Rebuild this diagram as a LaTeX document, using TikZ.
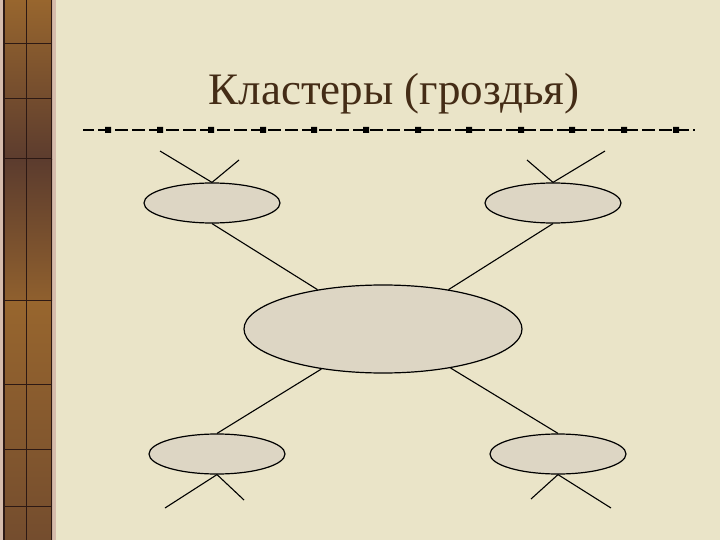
\documentclass[tikz,border=0pt]{standalone}
\usepackage{fontspec}
\setmainfont{Liberation Serif}
\usetikzlibrary{shapes.geometric}
\definecolor{paper}{RGB}{234,228,200}
\definecolor{oval}{RGB}{221,214,196}
\definecolor{titlebrown}{RGB}{68,44,22}
\definecolor{stripedge}{RGB}{214,188,172}
\definecolor{woodlight}{RGB}{152,102,46}
\definecolor{wooddark}{RGB}{92,60,46}
\definecolor{stripline}{RGB}{45,25,20}
\tikzset{
	cluster/.style={ellipse,draw=black,line width=1.2pt,fill=oval,inner sep=0pt}, % one oval of the cluster
	small cluster/.style={cluster,minimum width=136pt,minimum height=40pt},
	branch/.style={line width=1.1pt},
}

\begin{document}
\begin{tikzpicture}[x=1pt,y=-1pt]
		% page size and paper
		\useasboundingbox (0,0) rectangle (720,540);
		\fill[paper] (0,0) rectangle (720,540);
		
		% wooden strip on the left
		\fill[stripedge] (0,0) rectangle (56,540);
		\shade[top color=woodlight,bottom color=wooddark] (4,0) rectangle (52,160);
		\shade[top color=wooddark,bottom color=woodlight!85!wooddark] (4,160) rectangle (52,300);
		\shade[top color=woodlight,bottom color=wooddark!60!woodlight] (4,300) rectangle (52,540);
		\draw[stripline,line width=1.6pt] (4,0) -- (4,540) (51.5,0) -- (51.5,540);
		\draw[stripline,line width=0.8pt] (26,0) -- (26,540);
		\draw[stripline,line width=0.8pt] (4,43) -- (52,43) (4,98) -- (52,98) (4,158) -- (52,158)
			(4,300) -- (52,300) (4,384) -- (52,384) (4,449) -- (52,449) (4,506) -- (52,506);
		
		% title
		\node[anchor=base,text=titlebrown,font=\rmfamily\fontsize{45}{50}\selectfont] (title) at (394,105) {Кластеры (гроздья)};
		
		% dashed rule with small squares under the title
		\coordinate (rule start) at (83,130);
		\coordinate (rule end) at (695,130);
		\draw[line width=1.4pt,dash pattern=on 13pt off 4pt,dash phase=2pt] (rule start) -- (rule end);
		\fill (105,127) rectangle +(6,6) (157,127) rectangle +(6,6) (208,127) rectangle +(6,6)
			(260,127) rectangle +(6,6) (311,127) rectangle +(6,6) (363,127) rectangle +(6,6)
			(415,127) rectangle +(6,6) (466,127) rectangle +(6,6) (518,127) rectangle +(6,6)
			(569,127) rectangle +(6,6) (621,127) rectangle +(6,6) (673,127) rectangle +(6,6);
		
		% the ovals
		\node[cluster,minimum width=278pt,minimum height=88pt] (centre) at (383,329) {};
		\node[small cluster] (topleft) at (212,203) {};
		\node[small cluster] (topright) at (553,203) {};
		\node[small cluster] (bottomleft) at (217,454) {};
		\node[small cluster] (bottomright) at (558,454) {};
		
		% free ends of the outer branches
		\coordinate (tl a) at (160,151);
		\coordinate (tl b) at (239,160);
		\coordinate (tr a) at (527,160);
		\coordinate (tr b) at (605,151);
		\coordinate (bl a) at (165,508);
		\coordinate (bl b) at (244,500);
		\coordinate (br a) at (531,499);
		\coordinate (br b) at (611,508);
		
		% branches from the centre oval
		\draw[branch] (topleft.south) -- (centre.149);
		\draw[branch] (topright.south) -- (centre.31);
		\draw[branch] (bottomleft.north) -- (centre.213);
		\draw[branch] (bottomright.north) -- (centre.330);
		
		% outer branches
		\draw[branch] (topleft.north) -- (tl a);
		\draw[branch] (topleft.north) -- (tl b);
		\draw[branch] (topright.north) -- (tr a);
		\draw[branch] (topright.north) -- (tr b);
		\draw[branch] (bottomleft.south) -- (bl a);
		\draw[branch] (bottomleft.south) -- (bl b);
		\draw[branch] (bottomright.south) -- (br a);
		\draw[branch] (bottomright.south) -- (br b);
		
		\end{tikzpicture}
\end{document}
